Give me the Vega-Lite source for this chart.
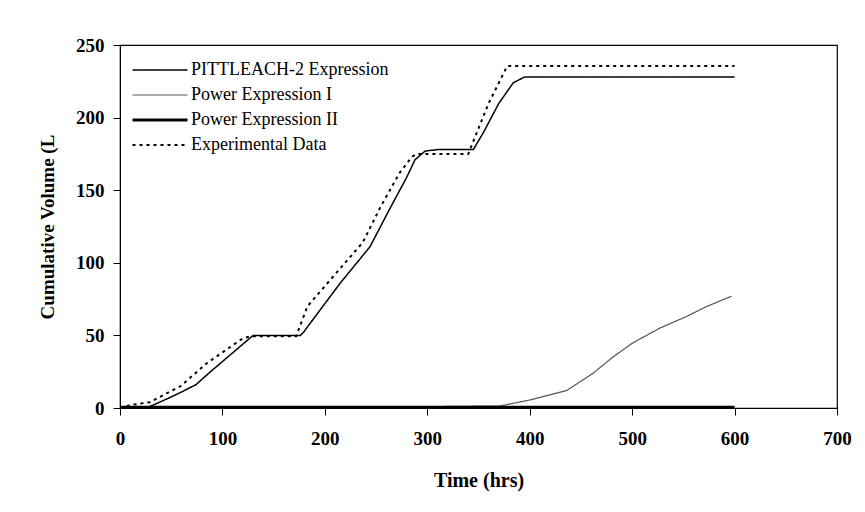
{
  "$schema": "https://vega.github.io/schema/vega-lite/v6.json",
  "width": 717,
  "height": 363,
  "autosize": {"type": "none"},
  "padding": {"left": 120, "top": 45, "right": 28, "bottom": 104},
  "background": "white",
  "config": {
    "view": {"stroke": "black", "strokeWidth": 1.2},
    "font": "Liberation Serif"
  },
  "data": {
    "values": [
      {"series": "PITTLEACH-2 Expression", "t": 0, "v": 0},
      {"series": "PITTLEACH-2 Expression", "t": 26, "v": 0},
      {"series": "PITTLEACH-2 Expression", "t": 45, "v": 6},
      {"series": "PITTLEACH-2 Expression", "t": 60, "v": 11},
      {"series": "PITTLEACH-2 Expression", "t": 74, "v": 16},
      {"series": "PITTLEACH-2 Expression", "t": 90, "v": 26},
      {"series": "PITTLEACH-2 Expression", "t": 110, "v": 38},
      {"series": "PITTLEACH-2 Expression", "t": 130, "v": 50},
      {"series": "PITTLEACH-2 Expression", "t": 176, "v": 50},
      {"series": "PITTLEACH-2 Expression", "t": 179, "v": 52},
      {"series": "PITTLEACH-2 Expression", "t": 198, "v": 70},
      {"series": "PITTLEACH-2 Expression", "t": 215, "v": 86},
      {"series": "PITTLEACH-2 Expression", "t": 244, "v": 111},
      {"series": "PITTLEACH-2 Expression", "t": 264, "v": 138},
      {"series": "PITTLEACH-2 Expression", "t": 280, "v": 159},
      {"series": "PITTLEACH-2 Expression", "t": 288, "v": 171},
      {"series": "PITTLEACH-2 Expression", "t": 298, "v": 177},
      {"series": "PITTLEACH-2 Expression", "t": 311, "v": 178},
      {"series": "PITTLEACH-2 Expression", "t": 345, "v": 178},
      {"series": "PITTLEACH-2 Expression", "t": 355, "v": 190},
      {"series": "PITTLEACH-2 Expression", "t": 370, "v": 210},
      {"series": "PITTLEACH-2 Expression", "t": 384, "v": 224},
      {"series": "PITTLEACH-2 Expression", "t": 395, "v": 228},
      {"series": "PITTLEACH-2 Expression", "t": 600, "v": 228},

      {"series": "Power Expression I", "t": 0, "v": 0},
      {"series": "Power Expression I", "t": 200, "v": 0.3},
      {"series": "Power Expression I", "t": 371, "v": 1.4},
      {"series": "Power Expression I", "t": 400, "v": 5.5},
      {"series": "Power Expression I", "t": 436, "v": 12},
      {"series": "Power Expression I", "t": 462, "v": 24},
      {"series": "Power Expression I", "t": 481, "v": 35},
      {"series": "Power Expression I", "t": 501, "v": 45},
      {"series": "Power Expression I", "t": 527, "v": 55},
      {"series": "Power Expression I", "t": 553, "v": 63},
      {"series": "Power Expression I", "t": 573, "v": 70},
      {"series": "Power Expression I", "t": 597, "v": 77},

      {"series": "Power Expression II", "t": 0, "v": 0.4},
      {"series": "Power Expression II", "t": 600, "v": 0.4},

      {"series": "Experimental Data", "t": 0, "v": 0},
      {"series": "Experimental Data", "t": 10, "v": 2},
      {"series": "Experimental Data", "t": 29, "v": 4},
      {"series": "Experimental Data", "t": 59, "v": 15},
      {"series": "Experimental Data", "t": 85, "v": 31},
      {"series": "Experimental Data", "t": 120, "v": 48},
      {"series": "Experimental Data", "t": 128, "v": 49.5},
      {"series": "Experimental Data", "t": 172, "v": 49.5},
      {"series": "Experimental Data", "t": 183, "v": 70},
      {"series": "Experimental Data", "t": 205, "v": 88},
      {"series": "Experimental Data", "t": 237, "v": 114},
      {"series": "Experimental Data", "t": 254, "v": 138},
      {"series": "Experimental Data", "t": 273, "v": 162},
      {"series": "Experimental Data", "t": 285, "v": 173},
      {"series": "Experimental Data", "t": 290, "v": 175},
      {"series": "Experimental Data", "t": 340, "v": 175},
      {"series": "Experimental Data", "t": 360, "v": 210},
      {"series": "Experimental Data", "t": 378, "v": 235.5},
      {"series": "Experimental Data", "t": 600, "v": 235.5}
    ]
  },
  "mark": {"type": "line", "strokeCap": "butt"},
  "encoding": {
    "x": {
      "field": "t", "type": "quantitative",
      "scale": {"domain": [0, 700], "nice": false},
      "axis": {
        "title": "Time (hrs)", "values": [0, 100, 200, 300, 400, 500, 600, 700],
        "grid": false, "domainColor": "black", "tickColor": "black", "tickSize": 7,
        "labelFont": "Liberation Serif", "labelFontSize": 19, "labelFontWeight": "bold", "labelColor": "black",
        "labelPadding": 14, "labelFlush": false,
        "titleFont": "Liberation Serif", "titleFontSize": 20, "titleFontWeight": "bold", "titleColor": "black",
        "titlePadding": 22
      }
    },
    "y": {
      "field": "v", "type": "quantitative",
      "scale": {"domain": [0, 250], "nice": false},
      "axis": {
        "title": "Cumulative Volume (L", "values": [0, 50, 100, 150, 200, 250],
        "grid": false, "domainColor": "black", "tickColor": "black", "tickSize": 7,
        "labelFont": "Liberation Serif", "labelFontSize": 19, "labelFontWeight": "bold", "labelColor": "black",
        "labelPadding": 9,
        "titleFont": "Liberation Serif", "titleFontSize": 19, "titleFontWeight": "bold", "titleColor": "black",
        "titlePadding": 18
      }
    },
    "color": {
      "field": "series", "type": "nominal",
      "scale": {
        "domain": ["PITTLEACH-2 Expression", "Power Expression I", "Power Expression II", "Experimental Data"],
        "range": ["black", "#555555", "black", "black"]
      },
      "legend": {
        "title": null, "orient": "none", "legendX": 31, "legendY": 16,
        "symbolType": "M-3,0H3", "symbolSize": 336,
        "labelFont": "Liberation Serif", "labelFontSize": 18, "labelColor": "black", "labelLimit": 400,
        "labelOffset": 22, "rowPadding": 7,
        "encode": {"symbols": {"update": {"strokeWidth": {"signal": "datum.value === 'Power Expression II' ? 3.2 : (datum.value === 'Power Expression I' ? 1.2 : (datum.value === 'Experimental Data' ? 2 : 1.5))"}}}}
      }
    },
    "strokeDash": {
      "field": "series", "type": "nominal",
      "scale": {
        "domain": ["PITTLEACH-2 Expression", "Power Expression I", "Power Expression II", "Experimental Data"],
        "range": [[1, 0], [1, 0], [1, 0], [3, 4]]
      },
      "legend": {
        "title": null, "orient": "none", "legendX": 31, "legendY": 16,
        "symbolType": "M-3,0H3", "symbolSize": 336,
        "labelFont": "Liberation Serif", "labelFontSize": 18, "labelColor": "black", "labelLimit": 400,
        "labelOffset": 22, "rowPadding": 7,
        "encode": {"symbols": {"update": {"strokeWidth": {"signal": "datum.value === 'Power Expression II' ? 3.2 : (datum.value === 'Power Expression I' ? 1.2 : (datum.value === 'Experimental Data' ? 2 : 1.5))"}}}}
      }
    },
    "strokeWidth": {
      "condition": [
        {"test": "datum.series === 'Power Expression II'", "value": 3.2},
        {"test": "datum.series === 'Power Expression I'", "value": 1.2},
        {"test": "datum.series === 'Experimental Data'", "value": 2}
      ],
      "value": 1.5
    }
  }
}
